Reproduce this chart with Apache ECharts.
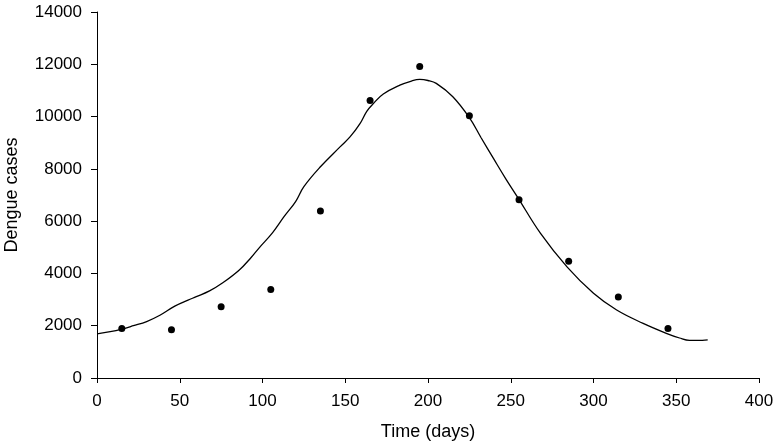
<!DOCTYPE html>
<html>
<head>
<meta charset="utf-8">
<script src="https://cdn.jsdelivr.net/npm/echarts@6/dist/echarts.min.js"></script>
<style>
html,body{margin:0;padding:0;background:#fff;}
#chart{width:775px;height:445px;}
</style>
</head>
<body>
<div id="chart"></div>
<script>
// Observed data points (day, cases)
var obsDays = [15, 45, 75, 105, 135, 165, 195, 225, 255, 285, 315, 345];
var obsCases = [1890, 1850, 2730, 3390, 6390, 10610, 11920, 10030, 6820, 4470, 3100, 1890];

// Model curve (day, cases)
var curveDays = [0, 8, 15, 22, 30, 38, 47, 55, 60, 68, 76, 86, 93, 98, 106, 113, 120, 125, 135, 147, 153, 159, 163, 167, 173, 183, 190, 195, 200, 205, 215, 225, 232, 240, 247, 254, 268, 284, 300, 314, 330, 344, 352, 358, 363, 369];
var curveCases = [1690, 1770, 1870, 2000, 2160, 2400, 2750, 2980, 3110, 3330, 3640, 4130, 4600, 4980, 5550, 6170, 6750, 7320, 8080, 8850, 9230, 9740, 10200, 10500, 10860, 11200, 11360, 11420, 11380, 11270, 10760, 9960, 9200, 8350, 7620, 6930, 5530, 4250, 3240, 2600, 2090, 1710, 1530, 1440, 1440, 1460];

var xTicks = [0, 50, 100, 150, 200, 250, 300, 350, 400];
var yTicks = [0, 2000, 4000, 6000, 8000, 10000, 12000, 14000];

var obsData = obsDays.map(function (d, i) { return [d, obsCases[i]]; });
var curveData = curveDays.map(function (d, i) { return [d, curveCases[i]]; });

var font = 'Liberation Sans, Arial, Helvetica, sans-serif';
var chart = echarts.init(document.getElementById('chart'), null, {renderer: 'canvas'});
chart.setOption({
  animation: false,
  backgroundColor: '#fff',
  grid: {left: 97, right: 16, top: 12, bottom: 67, containLabel: false, outerBoundsMode: 'none'},
  xAxis: {
    type: 'value',
    min: xTicks[0], max: xTicks[xTicks.length - 1], interval: 50,
    name: 'Time (days)', nameLocation: 'middle', nameGap: 45,
    nameTextStyle: {fontFamily: font, fontSize: 18, color: '#000'},
    axisLine: {show: true, lineStyle: {color: '#000', width: 1}},
    axisTick: {show: true, inside: false, length: 5, lineStyle: {color: '#000'}},
    axisLabel: {fontFamily: font, fontSize: 17, color: '#000', margin: 15,
      formatter: function (v) { return String(v); }},
    splitLine: {show: false}
  },
  yAxis: {
    type: 'value',
    min: yTicks[0], max: yTicks[yTicks.length - 1], interval: 2000,
    name: 'Dengue cases', nameLocation: 'middle', nameGap: 76, nameRotate: 90,
    nameTextStyle: {fontFamily: font, fontSize: 18, color: '#000'},
    axisLine: {show: true, lineStyle: {color: '#000', width: 1}},
    axisTick: {show: true, inside: false, length: 6, lineStyle: {color: '#000'}},
    axisLabel: {fontFamily: font, fontSize: 17, color: '#000', margin: 15,
      formatter: function (v) { return String(v); }},
    splitLine: {show: false}
  },
  series: [
    {
      type: 'line',
      data: curveData,
      smooth: 0.4,
      showSymbol: false,
      lineStyle: {color: '#000', width: 1.3},
      z: 2
    },
    {
      type: 'scatter',
      data: obsData,
      symbol: 'circle',
      symbolSize: 7,
      itemStyle: {color: '#000', opacity: 1},
      z: 3
    }
  ]
});
</script>
</body>
</html>
